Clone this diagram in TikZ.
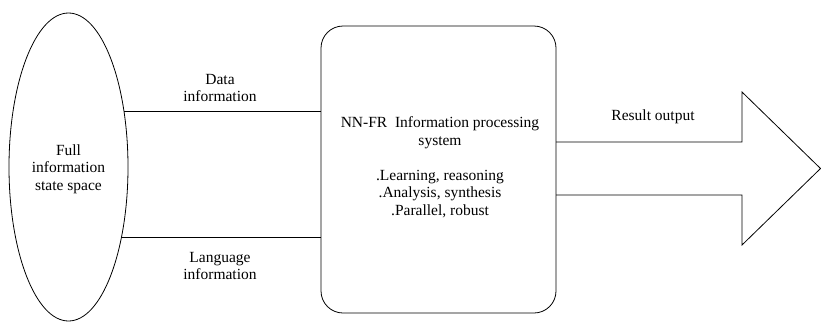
\documentclass[tikz,border=0pt]{standalone}
\usepackage{fontspec}
\setmainfont{Liberation Serif}
\usetikzlibrary{shapes.geometric}
\begin{document}
\begin{tikzpicture}[x=1pt,y=-1pt,
  lbl/.style={align=center,font=\fontsize{15.5}{17.7}\selectfont,inner sep=0pt},
  every path/.style={line width=0.8pt}]
\useasboundingbox (0,0) rectangle (821,322);
\node[ellipse,draw,minimum width=119,minimum height=308,inner sep=0pt,outer sep=0pt] (ell) at (68.5,167) {};
\node[lbl] (full) at (68.5,169) {Full\\information\\state space};
\node[draw,rounded corners=22pt,minimum width=235,minimum height=287,inner sep=0pt,outer sep=0pt] (box) at (438.5,169.5) {};
\node[lbl] (sys) at (440,167.5) {NN-FR\ \ Information processing\\system\\[17pt].Learning, reasoning\\.Analysis, synthesis\\.Parallel, robust};
\draw (ell.45.5) -- (box.west |- ell.45.5);
\draw (ell.-53.1) -- (box.west |- ell.-53.1);
\node[lbl] (data) at (220,88) {Data\\information};
\node[lbl] (lang) at (220,266) {Language\\information};
\coordinate (a1) at (742,142);
\coordinate (a2) at (742,92);
\coordinate (tip) at (820.5,168.5);
\coordinate (a3) at (742,245);
\coordinate (a4) at (742,195);
\draw[line join=miter] (box.east |- a1) -- (a1) -- (a2) -- (tip) -- (a3) -- (a4) -- (box.east |- a4);
\node[lbl] (res) at (653,117) {Result output};
\end{tikzpicture}
\end{document}
